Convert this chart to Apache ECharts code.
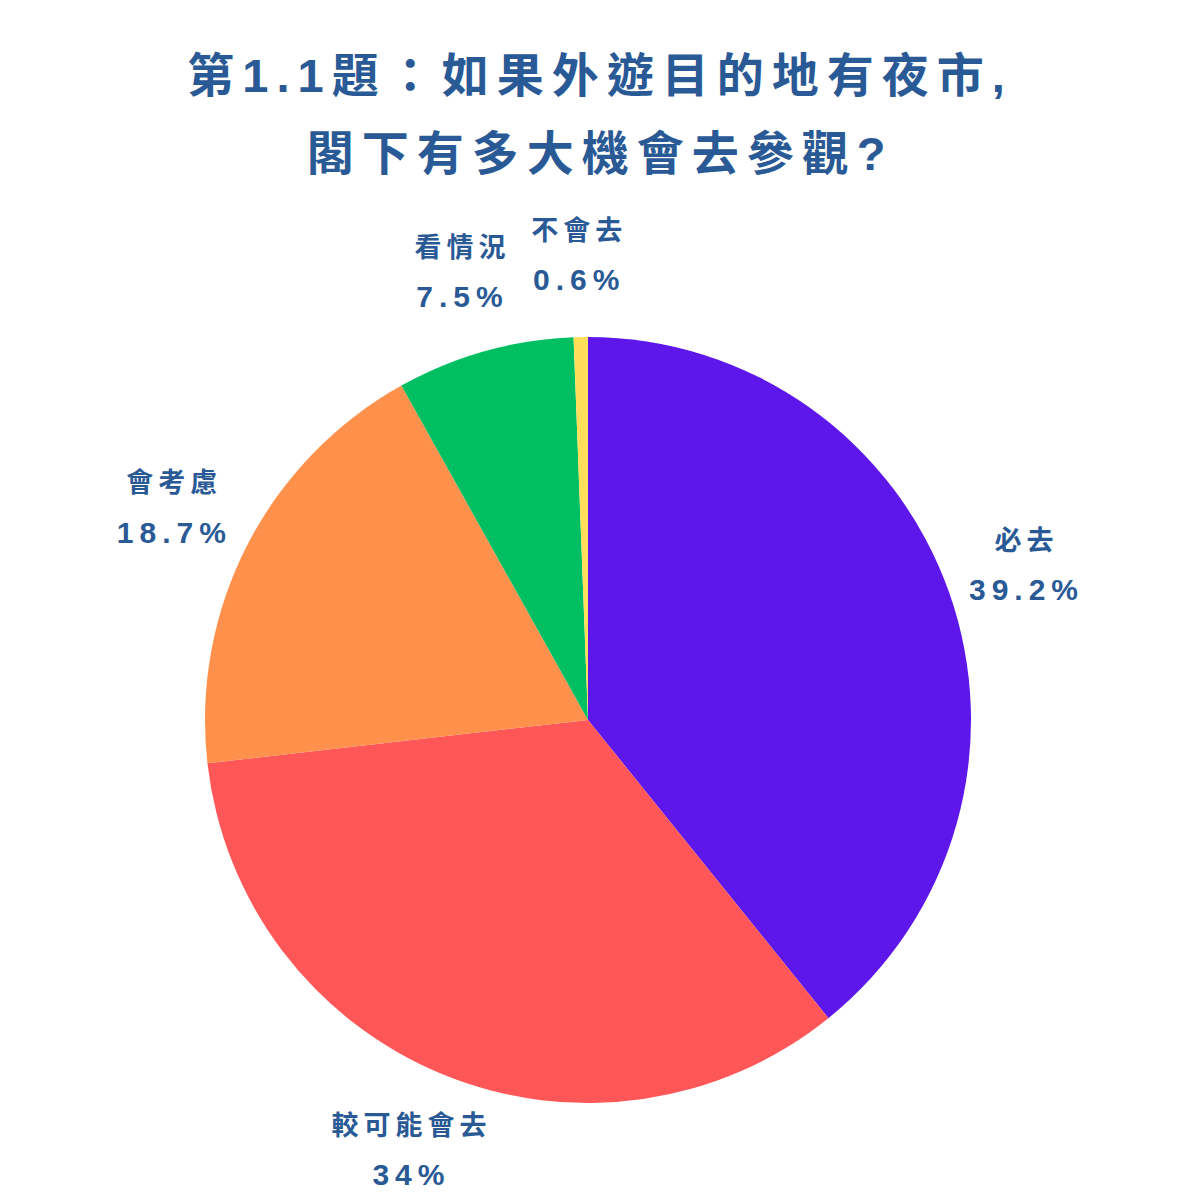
<!DOCTYPE html>
<html>
<head>
<meta charset="utf-8">
<script src="https://cdn.jsdelivr.net/npm/echarts@6/dist/echarts.min.js"></script>
<style>
html,body{margin:0;padding:0;background:#fff;}
#chart{width:1200px;height:1200px;}
#chart text{letter-spacing:5px;}
#chart text[style*="47px"]{letter-spacing:8px;}
#chart text[style*="30px"]{letter-spacing:6px;}
#chart text[style*="27px"]{letter-spacing:5px;}
</style>
</head>
<body>
<div id="chart"></div>
<script>
const titleLines = ['第1.1題：如果外遊目的地有夜市,', '閣下有多大機會去參觀?'];
const categories = ['必去', '較可能會去', '會考慮', '看情況', '不會去'];
const percents = [39.2, 34, 18.7, 7.5, 0.6];
const colors = ['#5E17EB', '#FF5757', '#FF914D', '#00BF63', '#FFDE59'];

const textColor = '#2A5A96';
const font = '"Liberation Sans", "Noto Sans CJK TC", sans-serif';

const data = categories.map((c, i) => ({ name: c, value: percents[i], itemStyle: { color: colors[i] } }));
const labelData = categories.map((c, i) => ({ name: c, value: percents[i] }));

const chart = echarts.init(document.getElementById('chart'), null, { renderer: 'svg' });
chart.setOption({
  backgroundColor: '#ffffff',
  animation: false,
  title: {
    text: titleLines.join('\n'),
    left: 'center',
    top: 31,
    textStyle: {
      color: textColor,
      fontFamily: font,
      fontWeight: 'bold',
      fontSize: 47,
      lineHeight: 78
    }
  },
  series: [
    {
      type: 'pie',
      center: [588, 720],
      radius: [0, 383],
      startAngle: 90,
      clockwise: true,
      silent: true,
      label: { show: false },
      labelLine: { show: false },
      itemStyle: { borderWidth: 0 },
      data: data
    },
    {
      type: 'pie',
      center: [588, 720],
      radius: [383, 541],
      startAngle: 90,
      clockwise: true,
      silent: true,
      itemStyle: { color: 'rgba(0,0,0,0)', borderWidth: 0 },
      label: {
        show: true,
        position: 'inside',
        color: textColor,
        fontFamily: font,
        fontWeight: 'bold',
        align: 'center',
        formatter: function (p) { return '{n|' + p.name + '}\n{p|' + p.value + '%}'; },
        rich: {
          n: { fontFamily: font, fontWeight: 'bold', fontSize: 27, lineHeight: 49, color: textColor },
          p: { fontFamily: font, fontWeight: 'bold', fontSize: 30, lineHeight: 49, color: textColor }
        }
      },
      labelLine: { show: false },
      data: labelData
    }
  ]
});
</script>
</body>
</html>
